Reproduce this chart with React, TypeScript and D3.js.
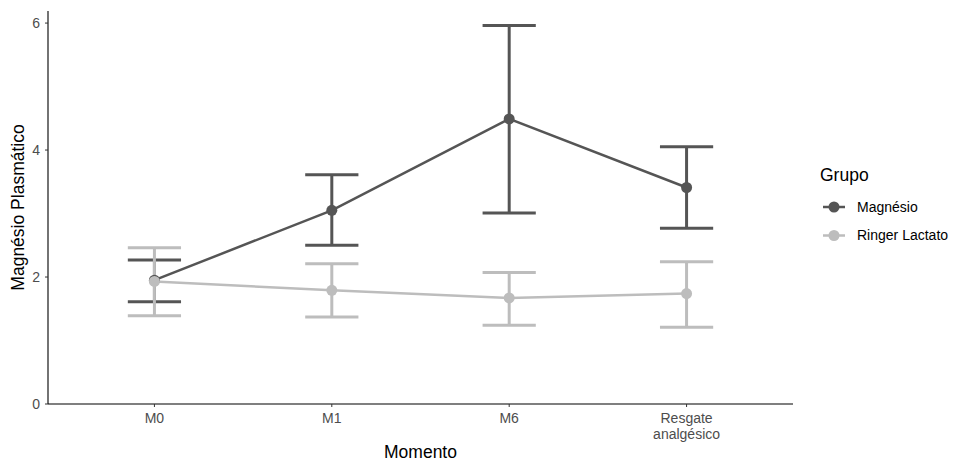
import React from 'react'
import * as d3 from 'd3'

const momentos = ['M0', 'M1', 'M6', 'Resgate\nanalgésico']
const grupos = ['Magnésio', 'Ringer Lactato']
const cores = ['#555555', '#bdbdbd']

const mediaMg = [1.95, 3.05, 4.49, 3.41]
const infMg = [1.61, 2.50, 3.01, 2.77]
const supMg = [2.27, 3.61, 5.96, 4.05]

const mediaRL = [1.93, 1.79, 1.67, 1.74]
const infRL = [1.39, 1.37, 1.24, 1.21]
const supRL = [2.46, 2.21, 2.07, 2.24]

const yTicks = [0, 2, 4, 6]

const W = 953
const H = 463
const margin = { top: 11, right: 160, bottom: 59, left: 48 }
const font = '"Liberation Sans", Arial, sans-serif'

const series = [
  { nome: grupos[0], cor: cores[0], media: mediaMg, inf: infMg, sup: supMg },
  { nome: grupos[1], cor: cores[1], media: mediaRL, inf: infRL, sup: supRL },
]

export default function App() {
  const x = d3.scalePoint<string>()
    .domain(momentos)
    .range([margin.left, W - margin.right])
    .padding(0.6)
  const step = x.step()
  const y = d3.scaleLinear()
    .domain([0, 6.19])
    .range([H - margin.bottom, margin.top])
  const capHalf = step * 0.15
  const line = d3.line<number>()
    .x((_, i) => x(momentos[i])!)
    .y(d => y(d))

  const x0 = margin.left
  const x1 = W - margin.right
  const yBase = y(0)

  return (
    <svg width={W} height={H} style={{ position: 'absolute', left: 0, top: 0 }} fontFamily={font}>
      <rect width={W} height={H} fill="#fff" />
      {/* error bars */}
      {series.map(s => (
        <g key={'e' + s.nome} stroke={s.cor} strokeWidth={3} fill="none">
          {momentos.map((m, i) => (
            <g key={m}>
              <line x1={x(m)} x2={x(m)} y1={y(s.inf[i])} y2={y(s.sup[i])} />
              <line x1={x(m)! - capHalf} x2={x(m)! + capHalf} y1={y(s.inf[i])} y2={y(s.inf[i])} />
              <line x1={x(m)! - capHalf} x2={x(m)! + capHalf} y1={y(s.sup[i])} y2={y(s.sup[i])} />
            </g>
          ))}
        </g>
      ))}
      {/* lines */}
      {series.map(s => (
        <path key={'l' + s.nome} d={line(s.media)!} stroke={s.cor} strokeWidth={2.5} fill="none" />
      ))}
      {/* points */}
      {series.map(s => (
        <g key={'p' + s.nome} fill={s.cor}>
          {momentos.map((m, i) => (
            <circle key={m} cx={x(m)} cy={y(s.media[i])} r={5.5} />
          ))}
        </g>
      ))}

      {/* axes */}
      <line x1={x0} x2={x0} y1={margin.top} y2={yBase} stroke="#000" strokeWidth={1.1} />
      <line x1={x0} x2={x1} y1={yBase} y2={yBase} stroke="#000" strokeWidth={1.1} />
      {yTicks.map(t => (
        <g key={t}>
          <line x1={x0 - 3} x2={x0} y1={y(t)} y2={y(t)} stroke="#333" />
          <text x={x0 - 8} y={y(t)} dy="0.35em" textAnchor="end" fontSize={14} fill="#4d4d4d">{t}</text>
        </g>
      ))}
      {momentos.map(m => (
        <g key={m}>
          <line x1={x(m)} x2={x(m)} y1={yBase} y2={yBase + 3} stroke="#333" />
          {m.split('\n').map((part, j) => (
            <text key={j} x={x(m)} y={yBase + 19 + j * 16} textAnchor="middle" fontSize={14} fill="#4d4d4d">{part}</text>
          ))}
        </g>
      ))}
      <text x={(x0 + x1) / 2} y={H - 5} textAnchor="middle" fontSize={17.5} fill="#000">Momento</text>
      <text transform={`translate(24,${(margin.top + yBase) / 2}) rotate(-90)`} textAnchor="middle" fontSize={17.5} fill="#000">Magnésio Plasmático</text>

      {/* legend */}
      <text x={820} y={181} fontSize={17.5} fill="#000">Grupo</text>
      {series.map((s, i) => {
        const cy = 207 + i * 28.5
        return (
          <g key={'lg' + s.nome}>
            <line x1={823} x2={845} y1={cy} y2={cy} stroke={s.cor} strokeWidth={2.5} />
            <circle cx={834} cy={cy} r={5.5} fill={s.cor} />
            <text x={857} y={cy} dy="0.35em" fontSize={14} fill="#000">{s.nome}</text>
          </g>
        )
      })}
    </svg>
  )
}
